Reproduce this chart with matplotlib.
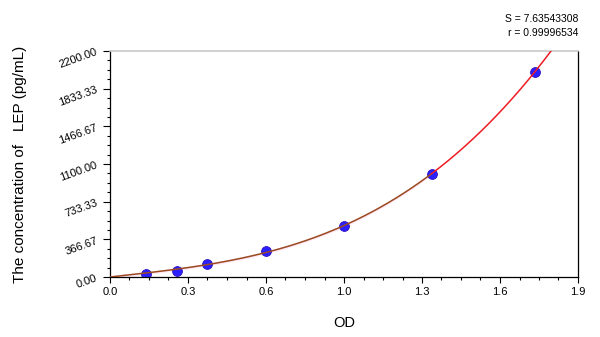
import numpy as np
import matplotlib.pyplot as plt
from matplotlib.ticker import FixedLocator, MultipleLocator

plt.rcParams['font.family'] = ['Liberation Sans', 'DejaVu Sans']

# standard curve data
od = [0.145, 0.272, 0.393, 0.633, 0.949, 1.306, 1.725]
conc = [31.25, 62.5, 125, 250, 500, 1000, 2000]

x_ticks = np.linspace(0, 1.9, 7)
x_labels = ['0.0', '0.3', '0.6', '1.0', '1.3', '1.6', '1.9']
y_ticks = np.linspace(0, 2200, 7)
y_labels = ['%.2f' % v for v in y_ticks]

stats = ['S = 7.63543308', 'r = 0.99996534']

# cubic fit of the standards, forced through the origin
xa = np.array(od)
A = np.column_stack([xa, xa ** 2, xa ** 3])
c = np.linalg.lstsq(A, np.array(conc), rcond=None)[0]
def fit(x):
    return c[0] * x + c[1] * x ** 2 + c[2] * x ** 3

fig = plt.figure(figsize=(6, 3.37), dpi=100)
ax = fig.add_axes([110 / 600, 60 / 337, 468 / 600, 226 / 337])

xs_in = np.linspace(0, od[-2], 200)
xs_out = np.linspace(od[-2], 1.9, 200)
ax.fill_between(xs_in, fit(xs_in) - 14, fit(xs_in) + 14, color='#ffd9f0', alpha=0.6, lw=0, zorder=1)
ax.scatter(od, conc, s=50, color='#2a1fff', edgecolor='#3010c0', linewidth=0.6, zorder=2)
ax.plot(xs_in, fit(xs_in), color='#9a4a20', lw=1.1, zorder=3)
ax.plot(xs_out, fit(xs_out), color='#ee1c24', lw=1.1, zorder=3)

ax.set_xlim(0, 1.9)
ax.set_ylim(0, 2200)
ax.xaxis.set_major_locator(FixedLocator(x_ticks))
ax.set_xticklabels(x_labels)
ax.xaxis.set_minor_locator(MultipleLocator(1.9 / 24))
ax.yaxis.set_major_locator(FixedLocator(y_ticks))
ax.set_yticklabels(y_labels, rotation=20)
ax.yaxis.set_minor_locator(MultipleLocator(2200 / 24))

ax.tick_params(which='major', direction='out', length=4, width=0.8, labelsize=8, pad=3)
ax.tick_params(which='minor', direction='out', length=2.5, width=0.8)
ax.tick_params(axis='y', which='major', length=5)

for side in ['left', 'bottom', 'right']:
    ax.spines[side].set_color('black')
    ax.spines[side].set_linewidth(0.9)
ax.spines['top'].set_color('#c8c8c8')
ax.spines['top'].set_linewidth(1.2)

ax.set_xlabel('OD', fontsize=10.5, labelpad=14)
ax.set_ylabel('The concentration of   LEP (pg/mL)', fontsize=11, labelpad=22)

fig.text(578 / 600, 1 - 19 / 337, stats[0], ha='right', va='center', fontsize=7.5)
fig.text(578 / 600, 1 - 33 / 337, stats[1], ha='right', va='center', fontsize=7.5)

fig.savefig('out.png', dpi=100)
